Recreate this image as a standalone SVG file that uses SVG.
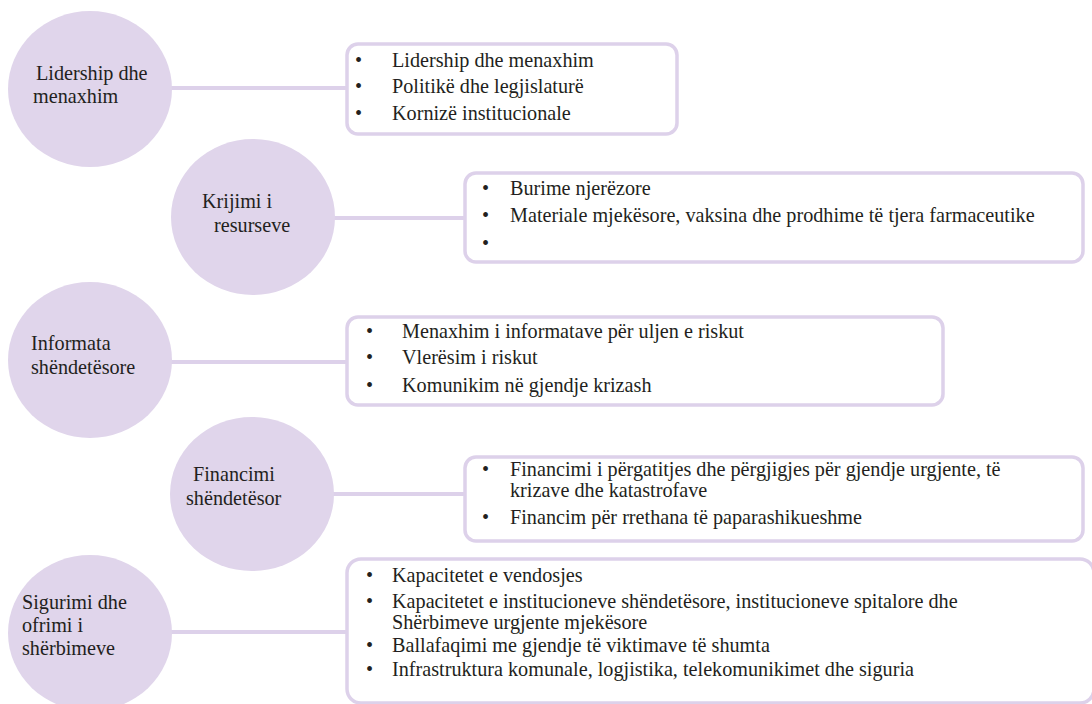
<svg xmlns="http://www.w3.org/2000/svg" width="1092" height="704" viewBox="0 0 1092 704">
<style>
.c{fill:#e0d5eb;}
.b{fill:#ffffff;stroke:#ddd1ea;stroke-width:3.5;}
.l{stroke:#ddd1ea;stroke-width:4;fill:none;}
.t text{font-family:"Liberation Serif","Times New Roman",Times,serif;font-size:20.2px;fill:#231f20;}
</style>
<rect width="1092" height="704" fill="#ffffff"/>
<g id="connectors">
<line class="l" x1="170" y1="88" x2="347" y2="88"/>
<line class="l" x1="333" y1="218" x2="465" y2="218"/>
<line class="l" x1="170" y1="362" x2="347" y2="362"/>
<line class="l" x1="332" y1="494" x2="465" y2="494"/>
<line class="l" x1="170" y1="632" x2="347" y2="632"/>
</g>
<g id="node-leadership" class="t">
<ellipse class="c" cx="90" cy="89" rx="82" ry="78"/>
<text x="36" y="80">Lidership dhe</text>
<text x="33" y="103">menaxhim</text>
</g>
<g id="box-leadership" class="t">
<rect class="b" x="347" y="44" width="330" height="90" rx="11"/>
<text x="355" y="67">•</text><text x="392" y="67">Lidership dhe menaxhim</text>
<text x="355" y="93">•</text><text x="392" y="93">Politikë dhe legjislaturë</text>
<text x="355" y="120">•</text><text x="392" y="120">Kornizë institucionale</text>
</g>
<g id="node-resources" class="t">
<ellipse class="c" cx="253" cy="217" rx="82" ry="78"/>
<text x="202" y="208">Krijimi i</text>
<text x="214" y="232">resurseve</text>
</g>
<g id="box-resources" class="t">
<rect class="b" x="465" y="173" width="618" height="89" rx="11"/>
<text x="482" y="195">•</text><text x="510" y="195">Burime njerëzore</text>
<text x="482" y="222">•</text><text x="510" y="222">Materiale mjekësore, vaksina dhe prodhime të tjera farmaceutike</text>
<text x="482" y="250">•</text>
</g>
<g id="node-information" class="t">
<ellipse class="c" cx="90" cy="360" rx="82" ry="78"/>
<text x="31" y="350">Informata</text>
<text x="31" y="374">shëndetësore</text>
</g>
<g id="box-information" class="t">
<rect class="b" x="347" y="317" width="596" height="88" rx="11"/>
<text x="366" y="338">•</text><text x="402" y="338">Menaxhim i informatave për uljen e riskut</text>
<text x="366" y="364">•</text><text x="402" y="364">Vlerësim i riskut</text>
<text x="366" y="392">•</text><text x="402" y="392">Komunikim në gjendje krizash</text>
</g>
<g id="node-financing" class="t">
<ellipse class="c" cx="252" cy="494" rx="82" ry="77"/>
<text x="193" y="481">Financimi</text>
<text x="186" y="505">shëndetësor</text>
</g>
<g id="box-financing" class="t">
<rect class="b" x="465" y="457" width="618" height="84" rx="11"/>
<text x="482" y="476">•</text><text x="510" y="476">Financimi i përgatitjes dhe përgjigjes për gjendje urgjente, të</text>
<text x="510" y="497">krizave dhe katastrofave</text>
<text x="482" y="524">•</text><text x="510" y="524">Financim për rrethana të paparashikueshme</text>
</g>
<g id="node-services" class="t">
<ellipse class="c" cx="90" cy="633" rx="82" ry="78"/>
<text x="22" y="609">Sigurimi dhe</text>
<text x="22" y="632">ofrimi i</text>
<text x="22" y="655">shërbimeve</text>
</g>
<g id="box-services" class="t">
<rect class="b" x="347" y="559" width="747" height="144" rx="14"/>
<text x="366" y="582">•</text><text x="392" y="582">Kapacitetet e vendosjes</text>
<text x="366" y="608">•</text><text x="392" y="608">Kapacitetet e institucioneve shëndetësore, institucioneve spitalore dhe</text>
<text x="392" y="629">Shërbimeve urgjente mjekësore</text>
<text x="366" y="652">•</text><text x="392" y="652">Ballafaqimi me gjendje të viktimave të shumta</text>
<text x="366" y="676">•</text><text x="392" y="676">Infrastruktura komunale, logjistika, telekomunikimet dhe siguria</text>
</g>
</svg>
